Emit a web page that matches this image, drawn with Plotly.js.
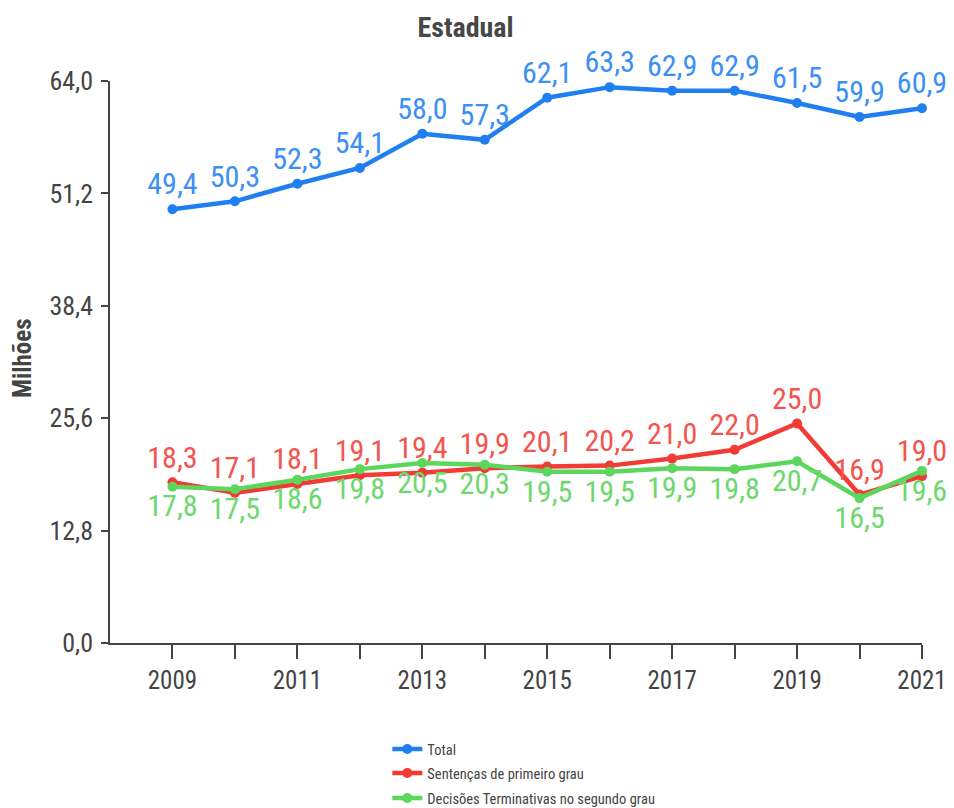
<!DOCTYPE html>
<html><head><meta charset="utf-8">
<script src="https://cdn.plot.ly/plotly-3.0.1.min.js"></script>
<style>body{margin:0;background:#fff}#c{width:954px;height:808px}</style>
</head><body><div id="c"></div>
<script>
const years = [2009,2010,2011,2012,2013,2014,2015,2016,2017,2018,2019,2020,2021];
const total = [49.4,50.3,52.3,54.1,58.0,57.3,62.1,63.3,62.9,62.9,61.5,59.9,60.9];
const sentencas = [18.3,17.1,18.1,19.1,19.4,19.9,20.1,20.2,21.0,22.0,25.0,16.9,19.0];
const decisoes = [17.8,17.5,18.6,19.8,20.5,20.3,19.5,19.5,19.9,19.8,20.7,16.5,19.6];
const seriesNames = ['Total','Sentenças de primeiro grau','Decisões Terminativas no segundo grau'];
const yTicks = [0,12.8,25.6,38.4,51.2,64.0];
const xTickText = years.map(y => (y % 2 === 1) ? String(y) : '');
const FONT = '"Roboto Condensed", "DejaVu Sans Condensed", sans-serif';
const fmt = v => v.toFixed(1).replace('.', ',');

function tr(name, y, lineColor, textColor, pos, leg) {
  return {
    x: years, y: y, name: name, type: 'scatter', mode: 'lines+markers+text',
    line: {color: lineColor, width: 4.5},
    marker: {color: lineColor, size: 10},
    text: y.map(fmt), textposition: pos,
    textfont: {family: FONT, size: 30, color: textColor},
    cliponaxis: false, legend: leg
  };
}
const data = [
  tr(seriesNames[0], total, '#1f7ff0', '#3b8ff5', 'top center', 'legend'),
  tr(seriesNames[1], sentencas, '#f33b35', '#f5534d', 'top center', 'legend2'),
  tr(seriesNames[2], decisoes, '#5cd65c', '#6dd86d', 'bottom center', 'legend3')
];
function leg(yc) {
  return {orientation: 'v', xref: 'container', yref: 'container',
          x: 0.406, xanchor: 'left', y: yc, yanchor: 'middle',
          font: {family: FONT, size: 14.5, color: '#444'}, bgcolor: 'rgba(0,0,0,0)'};
}
const layout = {
  width: 954, height: 808,
  margin: {l: 110, r: 32, t: 81, b: 165, autoexpand: false},
  paper_bgcolor: '#fff', plot_bgcolor: '#fff',
  font: {family: FONT, color: '#444'},
  title: {text: '<b>Estadual</b>', font: {family: FONT, size: 28, color: '#474747'},
          x: 0.488, xref: 'container', xanchor: 'center', y: 0.966, yanchor: 'middle'},
  xaxis: {range: [2008, 2021], tickvals: years, ticktext: xTickText, tickangle: 0, automargin: false,
          ticks: 'outside', ticklen: 14, tickwidth: 1.5, tickcolor: '#444',
          showline: true, linecolor: '#444', linewidth: 1.5, showgrid: false, zeroline: false,
          tickfont: {family: FONT, size: 25, color: '#444'}},
  yaxis: {range: [0, 64], tickvals: yTicks, ticktext: yTicks.map(fmt), automargin: false,
          ticks: 'outside', ticklen: 7, tickwidth: 1.5, tickcolor: '#444',
          showline: true, linecolor: '#444', linewidth: 1.5, showgrid: false, zeroline: false,
          tickfont: {family: FONT, size: 26, color: '#444'}, ticklabelstandoff: 3},
  annotations: [{text: '<b>Milhões</b>', textangle: -90, showarrow: false,
                 xref: 'paper', yref: 'paper', x: (22 - 110) / 812, y: (643 - 358) / 562,
                 xanchor: 'center', yanchor: 'middle',
                 font: {family: FONT, size: 25, color: '#444'}}],
  showlegend: true,
  legend: leg(1 - 749/808),
  legend2: leg(1 - 773/808),
  legend3: leg(1 - 798/808)
};
Plotly.newPlot('c', data, layout, {displayModeBar: false});
</script></body></html>
